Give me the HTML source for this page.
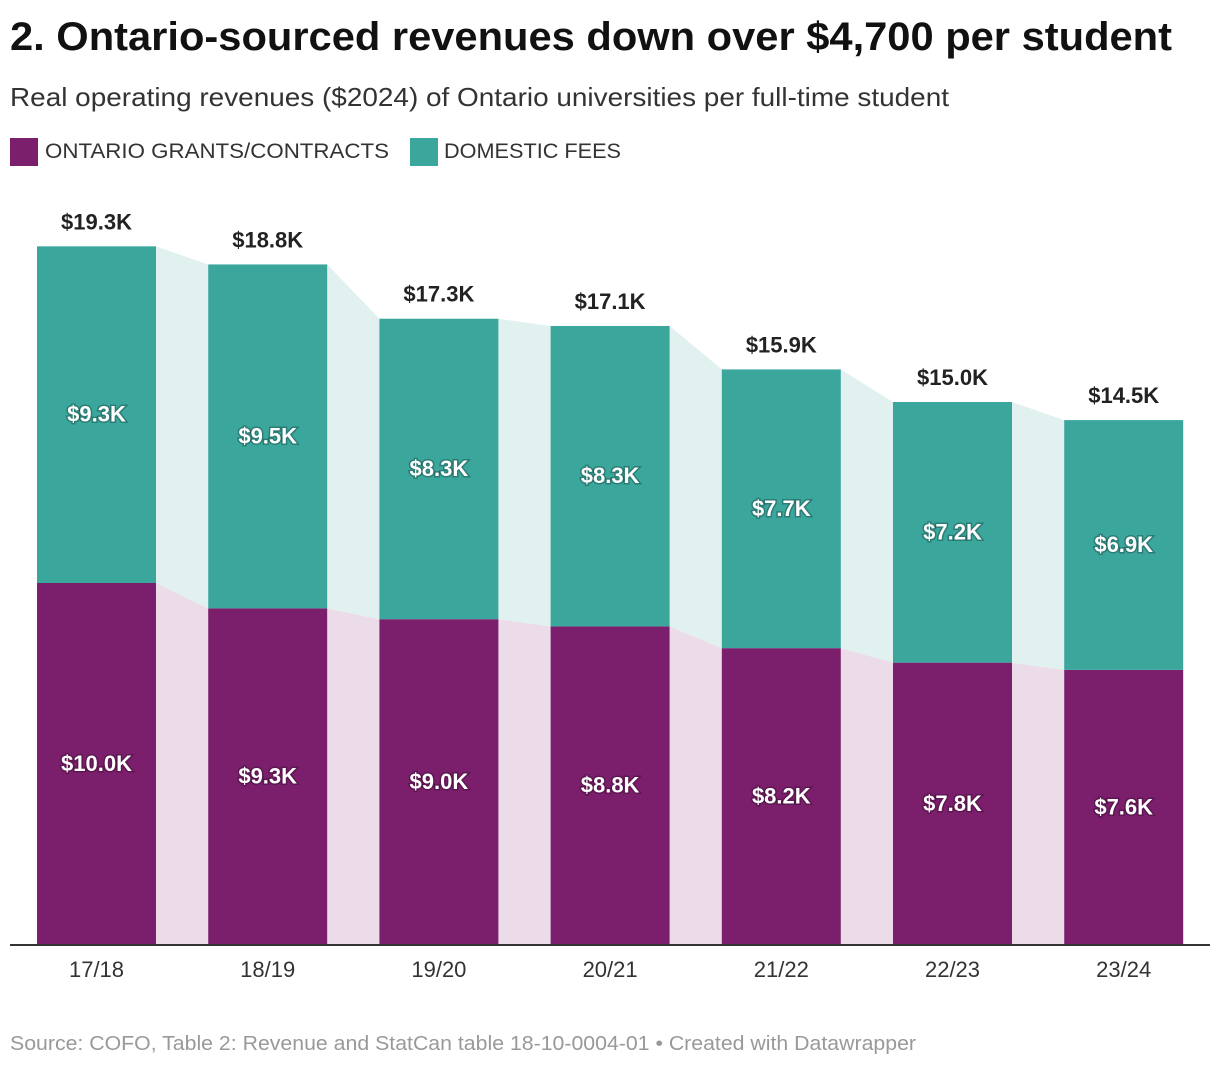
<!DOCTYPE html>
<html><head><meta charset="utf-8">
<style>
body{margin:0;background:#fff;width:1220px;height:1068px;overflow:hidden;font-family:"Liberation Sans",sans-serif;}
svg text{font-family:"Liberation Sans",sans-serif;}
</style></head>
<body>
<svg id="chart" width="1220" height="1068" xmlns="http://www.w3.org/2000/svg">
<text x="10" y="50" font-size="40" font-weight="bold" fill="#111" textLength="1162" lengthAdjust="spacingAndGlyphs">2. Ontario-sourced revenues down over $4,700 per student</text>
<text x="10" y="106" font-size="26" fill="#333" textLength="939" lengthAdjust="spacingAndGlyphs">Real operating revenues ($2024) of Ontario universities per full-time student</text>
<g>
<rect x="10" y="138" width="28" height="28" fill="#7b1e6b"/>
<text x="45" y="158" font-size="21" fill="#333" textLength="344" lengthAdjust="spacingAndGlyphs">ONTARIO GRANTS/CONTRACTS</text>
<rect x="410" y="138" width="28" height="28" fill="#3aa69c"/>
<text x="444" y="158" font-size="21" fill="#333" textLength="177" lengthAdjust="spacingAndGlyphs">DOMESTIC FEES</text>
</g>
<g id="plot"></g>
<line x1="10" x2="1210" y1="945" y2="945" stroke="#333" stroke-width="2"/>
<text x="10" y="1050" font-size="20" fill="#999" textLength="906" lengthAdjust="spacingAndGlyphs">Source: COFO, Table 2: Revenue and StatCan table 18-10-0004-01 • Created with Datawrapper</text>
</svg>
<script>
const categories=["17/18","18/19","19/20","20/21","21/22","22/23","23/24"];
const ontarioValues=[10.0,9.3,9.0,8.8,8.2,7.8,7.6];
const feesValues=[9.3,9.5,8.3,8.3,7.7,7.2,6.9];
const totalLabels=["$19.3K","$18.8K","$17.3K","$17.1K","$15.9K","$15.0K","$14.5K"];
const ontarioLabels=["$10.0K","$9.3K","$9.0K","$8.8K","$8.2K","$7.8K","$7.6K"];
const feesLabels=["$9.3K","$9.5K","$8.3K","$8.3K","$7.7K","$7.2K","$6.9K"];

const NS="http://www.w3.org/2000/svg";
const g=document.getElementById('plot');
const base=945, pxPerK=36.2, x0=37, pitch=171.2, bw=119;
const y=v=>base-v*pxPerK;
const xL=i=>x0+i*pitch;
function mk(t,a){const e=document.createElementNS(NS,t);for(const k in a)e.setAttribute(k,a[k]);g.appendChild(e);return e;}
for(let i=0;i<categories.length-1;i++){
  const a=xL(i)+bw,b=xL(i+1);
  const o1=y(ontarioValues[i]),o2=y(ontarioValues[i+1]);
  const t1=y(ontarioValues[i]+feesValues[i]),t2=y(ontarioValues[i+1]+feesValues[i+1]);
  const p1=mk('polygon',{points:`${a},${base} ${a},${o1} ${b},${o2} ${b},${base}`,fill:'#ecdcea'});
  
  
  const p2=mk('polygon',{points:`${a},${o1} ${a},${t1} ${b},${t2} ${b},${o2}`,fill:'#e0f1ef'});
  
  
}
for(let i=0;i<categories.length;i++){
  const x=xL(i),cx=x+bw/2;
  const o=y(ontarioValues[i]),t=y(ontarioValues[i]+feesValues[i]);
  const r1=mk('rect',{x:x,y:o,width:bw,height:base-o,fill:'#7b1e6b'});
  
  
  const r2=mk('rect',{x:x,y:t,width:bw,height:o-t,fill:'#3aa69c'});
  
  
  const st='font-weight:bold;paint-order:stroke;stroke:rgba(0,0,0,0.25);stroke-width:3px';
  const l1=mk('text',{x:cx,y:(o+base)/2+7,'text-anchor':'middle','font-size':22,fill:'#fff',style:st});
  l1.textContent=ontarioLabels[i];
  
  
  const l2=mk('text',{x:cx,y:(o+t)/2+7,'text-anchor':'middle','font-size':22,fill:'#fff',style:st});
  l2.textContent=feesLabels[i];
  
  
  const l3=mk('text',{x:cx,y:t-17,'text-anchor':'middle','font-size':22,'font-weight':'bold',fill:'#222'});
  l3.textContent=totalLabels[i];
  
  
  const tk=mk('text',{x:cx,y:977,'text-anchor':'middle','font-size':22,fill:'#333'});
  tk.textContent=categories[i];
  
  
}
</script>
</body></html>
